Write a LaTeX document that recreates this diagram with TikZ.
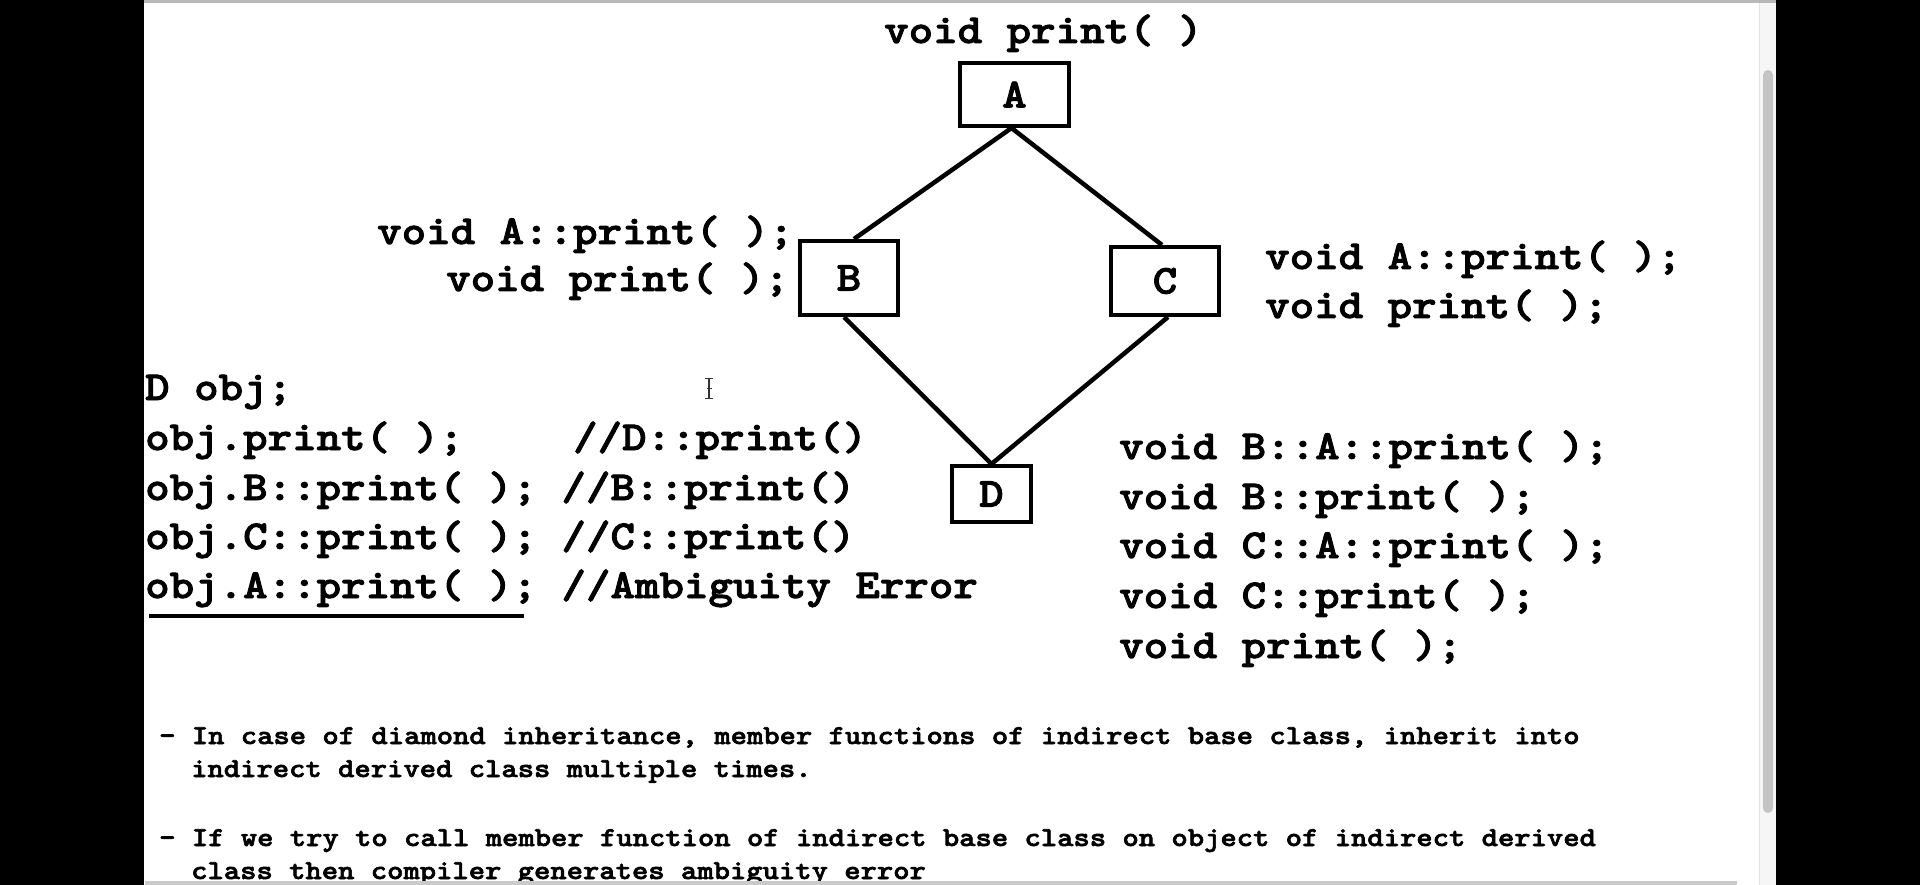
\documentclass[tikz,border=0pt]{standalone}
\usepackage{fontspec}
\newfontfamily\codefont{lmmonolt10-bold.otf}[FakeStretch=1.135,FakeBold=2.2]
\definecolor{topgray}{HTML}{B8B8B8}
\definecolor{trackgray}{HTML}{F6F6F6}
\definecolor{trackline}{HTML}{E4E4E4}
\definecolor{thumbgray}{HTML}{C4C4C4}
\definecolor{bargray}{HTML}{CACACA}
\definecolor{cursorgray}{HTML}{333333}
\begin{document}
\begin{tikzpicture}[x=1pt,y=-1pt,
  code/.style={anchor=base west, inner sep=0pt, font=\codefont\fontsize{41.1pt}{48pt}\selectfont},
  note/.style={anchor=base west, inner sep=0pt, font=\codefont\fontsize{27.4pt}{33pt}\selectfont},
  classbox/.style={draw, line width=4pt, inner sep=0pt, font=\codefont\fontsize{41.1pt}{48pt}\selectfont},
  link/.style={line width=4.5pt}]
\useasboundingbox (0,0) rectangle (1920,885);
% screen frame
\fill[white] (0,0) rectangle (1920,885);
\fill[black] (0,0) rectangle (144,885);
\fill[black] (1776,0) rectangle (1920,885);
\fill[topgray] (144,0) rectangle (1776,3);
\fill[trackgray] (1759,3) rectangle (1776,885);
\draw[trackline, line width=1pt] (1759.5,3) -- (1759.5,885);
\fill[thumbgray, rounded corners=5pt] (1763,70) rectangle (1773,813);

% class boxes
\node[classbox, minimum width=109pt, minimum height=63pt] (A) at (1014.5,94.5) {A};
\node[classbox, minimum width=98pt, minimum height=74pt] (B) at (849,278) {B};
\node[classbox, minimum width=108pt, minimum height=68pt] (C) at (1165,281) {C};
\node[classbox, minimum width=79pt, minimum height=56pt] (D) at (991.5,494) {D};

\draw[link] ([xshift=-3pt]A.south) -- ([xshift=5pt]B.north);
\draw[link] ([xshift=-3pt]A.south) -- ([xshift=-3pt]C.north);
\draw[link] ([xshift=-5pt]B.south) -- (D.north);
\draw[link] ([xshift=3pt]C.south) -- (D.north);

% labels around the diamond
\node[code] (ta) at (884,43) {void print( )};
\node[code] (tb1) at (377,244) {void A::print( );};
\node[code] (tb2) at (446,291) {void print( );};
\node[code] (tc1) at (1265,269) {void A::print( );};
\node[code] (tc2) at (1265,318) {void print( );};

\node[code] (td1) at (1119,459) {void B::A::print( );};
\node[code] (td2) at (1119,509) {void B::print( );};
\node[code] (td3) at (1119,558) {void C::A::print( );};
\node[code] (td4) at (1119,608) {void C::print( );};
\node[code] (td5) at (1119,658) {void print( );};

% object calls
\node[code] (o1) at (145,400) {D obj;};
\node[code] (o2) at (145,450) {obj.print( );};
\node[code] (o2c) at (573,450) {//D::print()};
\node[code] (o3) at (145,500) {obj.B::print( ); //B::print()};
\node[code] (o4) at (145,549) {obj.C::print( ); //C::print()};
\node[code] (o5) at (145,598) {obj.A::print( ); //Ambiguity Error};
\draw[line width=4pt] (149,616) -- (524,616);

% cursor
\draw[cursorgray, line width=1.6pt] (709,379) -- (709,398)
  (705,378.5) -- (713,378.5) (705,398.5) -- (713,398.5) (706.5,388.5) -- (711.5,388.5);

% notes
\node[note] (n1) at (159,744) {- In case of diamond inheritance, member functions of indirect base class, inherit into};
\node[note] (n2) at (191,777) {indirect derived class multiple times.};
\node[note] (n3) at (159,846) {- If we try to call member function of indirect base class on object of indirect derived};
\node[note] (n4) at (191,879) {class then compiler generates ambiguity error};

\fill[bargray] (145,881) rectangle (1737,885);
\end{tikzpicture}
\end{document}
